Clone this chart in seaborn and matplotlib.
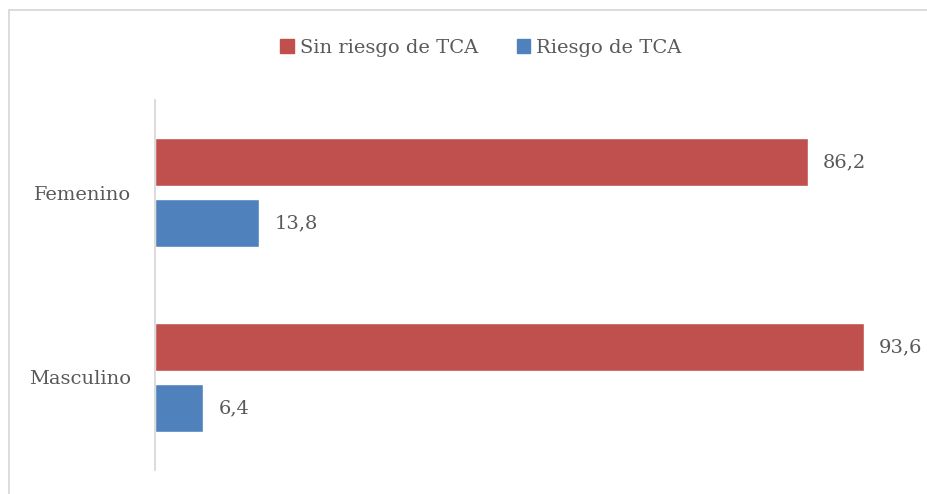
import seaborn as sns
import pandas as pd
import matplotlib.pyplot as plt
from matplotlib.lines import Line2D

sexo = ['Femenino', 'Masculino']
series = ['Sin riesgo de TCA', 'Riesgo de TCA']
sin_riesgo = [86.2, 93.6]
riesgo = [13.8, 6.4]

colors = ['#C0504D', '#4F81BD']
text_color = '#595959'

df = pd.DataFrame({
    'sexo': sexo * 2,
    'grupo': [series[0]] * len(sexo) + [series[1]] * len(sexo),
    'valor': sin_riesgo + riesgo,
})

sns.set_style('white')
plt.rcParams['font.family'] = ['DejaVu Serif']

fig = plt.figure(figsize=(9.28, 4.94), dpi=100)
ax = fig.add_axes([155 / 928, 1 - 470 / 494, (912 - 155) / 928, 370 / 494])

sns.barplot(data=df, y='sexo', x='valor', hue='grupo', hue_order=series,
            palette=colors, orient='h', width=0.66, gap=0.2,
            saturation=1, legend=False, ax=ax)

for container in ax.containers:
    labels = [f'{v:.1f}'.replace('.', ',') for v in container.datavalues]
    ax.bar_label(container, labels=labels, padding=11, fontsize=14, color=text_color)

ax.set_xlim(0, 100)
ax.set_ylim(1.5, -0.5)
ax.set_xlabel('')
ax.set_ylabel('')
ax.set_xticks([])
ax.tick_params(axis='y', length=0, pad=17, labelsize=14, labelcolor=text_color)
for side in ['top', 'right', 'bottom']:
    ax.spines[side].set_visible(False)
ax.spines['left'].set_color('#D9D9D9')
ax.spines['left'].set_linewidth(1.3)

handles = [plt.Rectangle((0, 0), 1, 1, color=c) for c in colors]
fig.legend(handles, series, loc='center', bbox_to_anchor=(481 / 928, 1 - 48 / 494),
           ncol=2, frameon=False, fontsize=14, labelcolor=text_color,
           handlelength=0.7, handleheight=0.7, handletextpad=0.3, columnspacing=2.0)

# chart area border (only top and left visible in the crop)
fig.add_artist(Line2D([9.5 / 928, 1], [1 - 10.5 / 494] * 2, color='#D9D9D9', lw=1.3))
fig.add_artist(Line2D([9.5 / 928] * 2, [0, 1 - 10.5 / 494], color='#D9D9D9', lw=1.3))

fig.savefig('out.png', dpi=100)
